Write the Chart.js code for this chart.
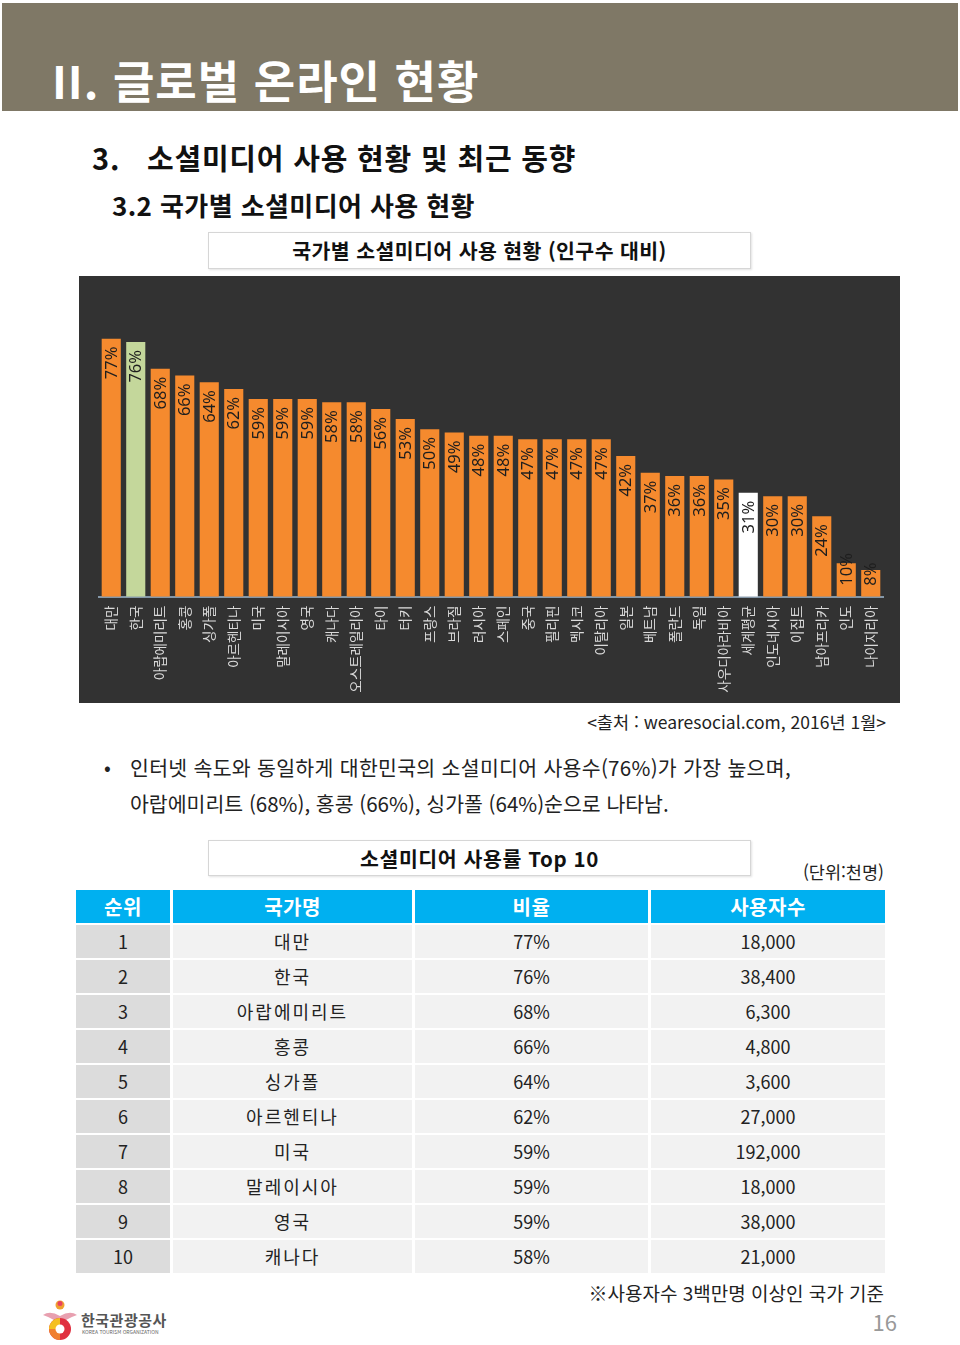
<!DOCTYPE html>
<html lang="ko">
<head>
<meta charset="utf-8">
<script src="https://cdn.jsdelivr.net/npm/chart.js@4.4.1/dist/chart.umd.min.js"></script>
<style>
  html, body { margin:0; padding:0; background:#fff; }
  body { width:960px; height:1345px; position:relative; overflow:hidden;
         font-family:"Noto Sans CJK KR","Noto Sans",sans-serif; color:#222; }
  .abs { position:absolute; white-space:nowrap; }
  #band { left:2px; top:3px; width:956px; height:108px; background:#7f7866; }
  #h1 { left:52px; top:55px; font-size:45px; line-height:50px; font-weight:700; color:#fff; letter-spacing:1px; }
  #h2 { left:92px; top:139px; font-size:29px; line-height:36px; font-weight:700; color:#111; letter-spacing:0.8px; }
  #h3 { left:112px; top:188px; font-size:26px; line-height:33px; font-weight:700; color:#111; letter-spacing:0.4px; }
  .tbox { left:208px; width:541px; border:1px solid #d6d6d6; box-shadow:1px 1px 2px #e2e2e2;
          text-align:center; font-weight:700; font-size:20.5px; color:#111; background:#fff; }
  #box1 { top:232px; height:35px; line-height:35px; letter-spacing:0.4px; }
  #box2 { top:840px; height:34px; line-height:34px; letter-spacing:0.6px; }
  #chartWrap { left:79px; top:276px; width:821px; height:427px; background:#323232; }
  #src { right:74px; top:710px; font-size:17.5px; line-height:24px; color:#222; }
  #bul { left:104px; top:754px; font-size:20px; line-height:26px; }
  #l1 { left:130px; top:754px; font-size:20.5px; line-height:26px; letter-spacing:0.3px; }
  #l2 { left:130px; top:790px; font-size:20.5px; line-height:26px; }
  #unit { right:76px; top:860px; font-size:17.5px; line-height:24px; }
  #tbl { left:76px; top:890px; display:grid; grid-template-columns:94px 239px 233px 234px;
         column-gap:3px; row-gap:2px; }
  #tbl div { text-align:center; font-size:18px; height:33px; line-height:33px; color:#222; background:#f2f2f2; }
  #tbl div.h { background:#00b0f0; color:#fff; font-weight:700; font-size:20px; letter-spacing:0.5px; }
  #tbl div.c1 { background:#dcdcdc; }
  #tbl div.c2 { letter-spacing:2px; }
  #note { right:76px; top:1280px; font-size:19px; line-height:26px; color:#222; }
  #pg { right:63px; top:1307px; font-size:22px; line-height:28px; color:#999; }
  #logo { left:40px; top:1298px; width:40px; height:44px; }
  #lt1 { left:81px; top:1311px; font-size:15px; line-height:18px; font-weight:700; color:#555; letter-spacing:0.5px; }
  #lt2 { left:82px; top:1329px; font-size:5px; line-height:6px; color:#666; }
</style>
</head>
<body>
<div class="abs" id="band"></div>
<div class="abs" id="h1">II. 글로벌 온라인 현황</div>
<div class="abs" id="h2">3.&nbsp;&nbsp; 소셜미디어 사용 현황 및 최근 동향</div>
<div class="abs" id="h3">3.2 국가별 소셜미디어 사용 현황</div>
<div class="abs tbox" id="box1">국가별 소셜미디어 사용 현황 (인구수 대비)</div>
<div class="abs" id="chartWrap"><canvas id="c" width="821" height="427"></canvas></div>
<div class="abs" id="src">&lt;출처 : wearesocial.com, 2016년 1월&gt;</div>
<div class="abs" id="bul">•</div>
<div class="abs" id="l1">인터넷 속도와 동일하게 대한민국의 소셜미디어 사용수(76%)가 가장 높으며,</div>
<div class="abs" id="l2">아랍에미리트 (68%), 홍콩 (66%), 싱가폴 (64%)순으로 나타남.</div>
<div class="abs tbox" id="box2">소셜미디어 사용률 Top 10</div>
<div class="abs" id="unit">(단위:천명)</div>
<div class="abs" id="tbl"></div>
<div class="abs" id="note">※사용자수 3백만명 이상인 국가 기준</div>
<div class="abs" id="pg">16</div>
<svg class="abs" id="logo" viewBox="0 0 40 44">
  <circle cx="20" cy="7" r="4.5" fill="#f0a030"/>
  <circle cx="20" cy="5.5" r="2.5" fill="#e84060"/>
  <path d="M3 17 Q10 12 20 18 Q30 12 37 17 Q31 19 26 22 L14 22 Q9 19 3 17Z" fill="#e8a0b0"/>
  <circle cx="20" cy="31" r="11" fill="#e03040"/>
  <path d="M9 31 A11 11 0 0 1 20 20 L20 31 Z" fill="#f4c020"/>
  <path d="M20 42 A11 11 0 0 1 9 31 L20 31 Z" fill="#f08030"/>
  <circle cx="20" cy="31" r="4.5" fill="#fff"/>
</svg>
<div class="abs" id="lt1">한국관광공사</div>
<div class="abs" id="lt2">KOREA TOURISM ORGANIZATION</div>

<script>
// ---- chart data ----
const categories = ["대만","한국","아랍에미리트","홍콩","싱가폴","아르헨티나","미국","말레이시아","영국","캐나다","오스트레일리아","타이","터키","프랑스","브라질","러시아","스페인","중국","필리핀","멕시코","이탈리아","일본","베트남","폴란드","독일","사우디아라비아","세계평균","인도네시아","이집트","남아프리카","인도","나이지리아"];
const values = [77,76,68,66,64,62,59,59,59,58,58,56,53,50,49,48,48,47,47,47,47,42,37,36,36,35,31,30,30,24,10,8];
const highlightKorea = "한국";
const highlightWorld = "세계평균";

// ---- table data ----
const tableHeaders = ["순위","국가명","비율","사용자수"];
const ranks = [1,2,3,4,5,6,7,8,9,10];
const topNames = ["대만","한국","아랍에미리트","홍콩","싱가폴","아르헨티나","미국","말레이시아","영국","캐나다"];
const topRatios = ["77%","76%","68%","66%","64%","62%","59%","59%","59%","58%"];
const topUsers = ["18,000","38,400","6,300","4,800","3,600","27,000","192,000","18,000","38,000","21,000"];

// build table
const tbl = document.getElementById('tbl');
tableHeaders.forEach(h => { const d = document.createElement('div'); d.className='h'; d.textContent=h; tbl.appendChild(d); });
ranks.forEach((r,i) => {
  [r, topNames[i], topRatios[i], topUsers[i]].forEach((v,j) => {
    const d = document.createElement('div');
    if (j===0) d.className='c1';
    if (j===1) d.className='c2';
    d.textContent = v; tbl.appendChild(d);
  });
});

const barColors = categories.map(c => c === highlightKorea ? '#c4d79b' : (c === highlightWorld ? '#ffffff' : '#f58a2e'));

const valueLabels = {
  id: 'valueLabels',
  afterDatasetsDraw(chart) {
    const ctx = chart.ctx;
    const meta = chart.getDatasetMeta(0);
    ctx.save();
    ctx.font = '16.5px "Noto Sans", sans-serif';
    ctx.fillStyle = '#1e1e1e';
    ctx.textAlign = 'right';
    ctx.textBaseline = 'middle';
    meta.data.forEach((bar, i) => {
      const txt = values[i] + '%';
      const w = ctx.measureText(txt).width;
      let top = bar.y + 8;
      if (top + w > bar.base - 11) top = bar.base - 11 - w;
      ctx.save();
      ctx.translate(bar.x + 1, top);
      ctx.rotate(-Math.PI / 2);
      ctx.fillText(txt, 0, 0);
      ctx.restore();
    });
    ctx.restore();
  }
};

new Chart(document.getElementById('c'), {
  type: 'bar',
  data: {
    labels: categories,
    datasets: [{ data: values, backgroundColor: barColors, borderWidth: 0,
                 barPercentage: 0.78, categoryPercentage: 1.0 }]
  },
  options: {
    responsive: false, animation: false, devicePixelRatio: 1,
    layout: { padding: { left: 20, right: 17, top: 52.6, bottom: 0 } },
    plugins: { legend: { display: false }, tooltip: { enabled: false } },
    scales: {
      x: {
        grid: { display: false, drawTicks: false },
        border: { display: true, color: '#8497a8', width: 2 },
        ticks: { color: '#dadada', font: { family: '"Noto Sans CJK KR", sans-serif', size: 13.5 },
                 minRotation: 90, maxRotation: 90, padding: 9, autoSkip: false },
        afterFit(s) { s.height = 106.3; }
      },
      y: { display: false, min: 0, max: 80 }
    }
  },
  plugins: [valueLabels]
});
</script>
</body>
</html>
